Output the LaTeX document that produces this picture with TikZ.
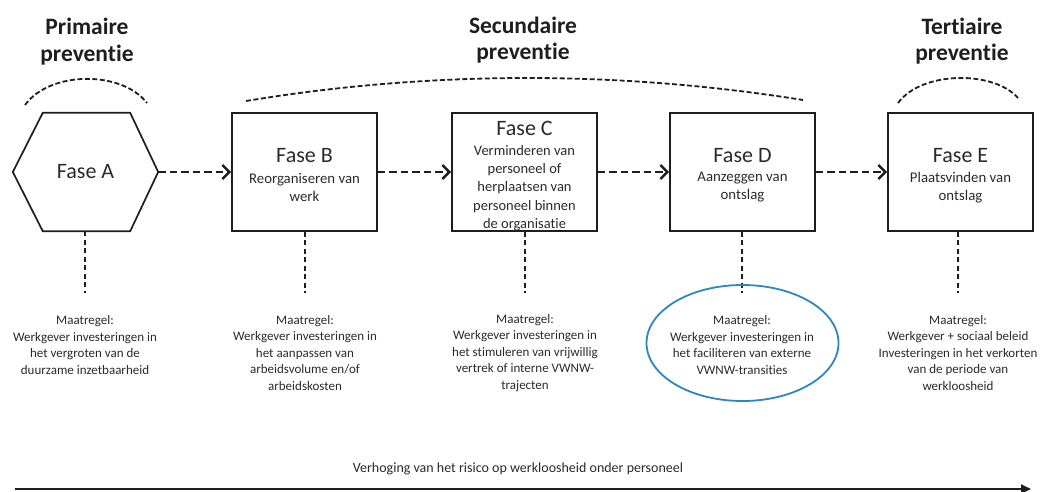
\documentclass[tikz,border=0pt]{standalone}
\usepackage{fontspec}
\setmainfont{Carlito}[Ligatures={NoCommon}]
\usetikzlibrary{arrows.meta,shapes.geometric}
\definecolor{ink}{HTML}{1E1E1E}
\definecolor{txt}{HTML}{2A2A2A}
\definecolor{ellblue}{HTML}{2C86C0}
\begin{document}
\begin{tikzpicture}[x=1pt,y=-1pt,
  phasebox/.style={draw=ink, line width=1.7pt, minimum width=145pt, minimum height=118pt, inner sep=0pt},
  hexbox/.style={minimum width=145pt, minimum height=118pt, inner sep=0pt},
  fasetitle/.style={font=\fontsize{22}{26}\selectfont, text=txt, inner sep=0pt},
  fasesub/.style={font=\fontsize{14.8}{18}\selectfont, text=txt, align=center, inner sep=0pt},
  fasesubc/.style={font=\fontsize{14.5}{18.3}\selectfont, text=txt, align=center, inner sep=0pt},
  header/.style={font=\fontsize{23.5}{26.5}\selectfont\bfseries, text=ink, align=center, inner sep=0pt},
  measure/.style={font=\fontsize{13}{16.5}\selectfont, text=txt, align=center, inner sep=0pt},
  flow/.style={draw=ink, line width=2.8pt, dash pattern=on 7.5pt off 4pt, -{Straight Barb[length=7pt,width=14pt,line width=2.5pt]}},
  drop/.style={draw=ink, line width=2pt, dash pattern=on 5pt off 3.5pt},
  bracket/.style={draw=ink, line width=1.8pt, dash pattern=on 5pt off 2.5pt},
  risk/.style={draw=ink, line width=2pt, -{Triangle[length=10pt,width=9pt]}}
]
\useasboundingbox (0,0) rectangle (1044,491);

% headers
\node[header] (hP) at (87,41.5) {Primaire\\preventie};
\node[header] (hS) at (523,40) {Secundaire\\preventie};
\node[header] (hT) at (962,41) {Tertiaire\\preventie};

% dashed arcs
\draw[bracket] (25,105) .. controls (50,70.5) and (122,70.5) .. (147,103);
\draw[bracket] (246,101) .. controls (430,70.5) and (619,70.5) .. (803,100);
\draw[bracket] (898,103) .. controls (922,70.5) and (994,70.5) .. (1018,98);

% phase A (hexagon)
\node[hexbox] (A) at (85.5,172) {};
\draw[draw=ink, line width=1.7pt, line join=miter] (A.west) -- ([xshift=30pt]A.north west) -- ([xshift=-28pt]A.north east) -- (A.east) -- ([xshift=-28pt]A.south east) -- ([xshift=30pt]A.south west) -- cycle;
\node[fasetitle] (tA) at (85.5,172) {Fase A};

% boxes
\node[phasebox] (B) at (304.5,172) {};
\node[phasebox] (C) at (524.5,172) {};
\node[phasebox] (D) at (742.5,172) {};
\node[phasebox] (E) at (960.5,172) {};

\node[fasetitle] (tB) at (304.5,156) {Fase B};
\node[fasesub] (sB) at (304.5,187.5) {Reorganiseren van\\werk};
\node[fasetitle] (tC) at (524.5,128) {Fase C};
\node[fasesubc] (sC) at (524.5,188) {Verminderen van\\personeel of\\herplaatsen van\\personeel binnen\\de organisatie};
\node[fasetitle] (tD) at (742.5,156) {Fase D};
\node[fasesub] (sD) at (742.5,187.5) {Aanzeggen van\\ontslag};
\node[fasetitle] (tE) at (960.5,156) {Fase E};
\node[fasesub] (sE) at (960.5,187.5) {Plaatsvinden van\\ontslag};

% flow arrows
\draw[flow] (A.east) -- (B.west);
\draw[flow] (B.east) -- (C.west);
\draw[flow] (C.east) -- (D.west);
\draw[flow] (D.east) -- (E.west);

% drop lines
\coordinate (eA) at (85,293);
\coordinate (eB) at (305,293);
\coordinate (eC) at (525,293);
\coordinate (eD) at (742,293);
\coordinate (eE) at (958,293);
\draw[drop] (A.south -| eA) -- (eA);
\draw[drop] (B.south -| eB) -- (eB);
\draw[drop] (C.south -| eC) -- (eC);
\draw[drop] (D.south -| eD) -- (eD);
\draw[drop] (E.south -| eE) -- (eE);

% measures
\node[measure] (mA) at (85,345) {Maatregel:\\Werkgever investeringen in\\het vergroten van de\\duurzame inzetbaarheid};
\node[measure] (mB) at (305,353) {Maatregel:\\Werkgever investeringen in\\het aanpassen van\\arbeidsvolume en/of\\arbeidskosten};
\node[measure] (mC) at (525,353) {Maatregel:\\Werkgever investeringen in\\het stimuleren van vrijwillig\\vertrek of interne VWNW-\\trajecten};
\node[ellipse, draw=ellblue, line width=1.8pt, minimum width=192pt, minimum height=116pt, inner sep=0pt] (ell) at (742.5,343) {};
\node[measure] (mD) at (742,345) {Maatregel:\\Werkgever investeringen in\\het faciliteren van externe\\VWNW-transities};
\node[measure] (mE) at (958,353) {Maatregel:\\Werkgever + sociaal beleid\\Investeringen in het verkorten\\van de periode van\\werkloosheid};

% risk axis
\node[font=\fontsize{14}{16}\selectfont, text=txt, inner sep=0pt] (risk) at (518,469) {Verhoging van het risico op werkloosheid onder personeel};
\coordinate (r0) at (15,489);
\coordinate (r1) at (1031,489);
\draw[risk] (r0) -- (r1);
\end{tikzpicture}
\end{document}
